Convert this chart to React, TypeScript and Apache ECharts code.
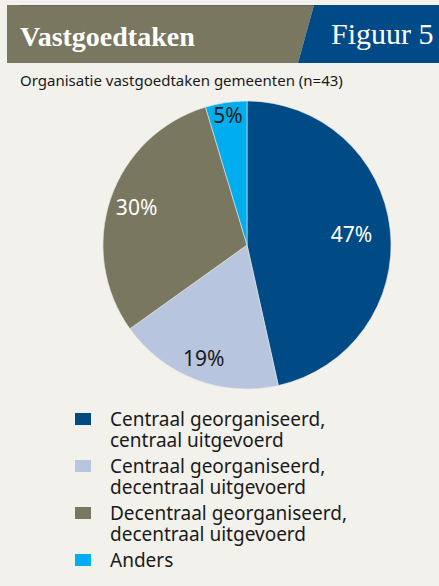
import React, { useEffect, useRef } from "react";
import * as echarts from "echarts";

// Data: organisation of municipal real-estate tasks (n = 43)
const categories = [
  "Centraal georganiseerd,\ncentraal uitgevoerd",
  "Centraal georganiseerd,\ndecentraal uitgevoerd",
  "Decentraal georganiseerd,\ndecentraal uitgevoerd",
  "Anders",
];
const counts = [20, 8, 13, 2];
const percentLabels = ["47%", "19%", "30%", "5%"];

const sliceColors = ["#004a85", "#b8c5de", "#79775f", "#00adee"];
const labelColors = ["#ffffff", "#1a1a1a", "#ffffff", "#1a1a1a"];
const labelRadiusFactor = [0.73, 0.84, 0.81, 0.91];

const CX = 247;
const CY = 245;
const R = 144;

// legend marker: a 16x12 square centred on the first of two 21px text lines
const legendIcon =
  "path://M0,4.5H16V16.5H0Z M0,0L0.01,0L0.01,0.01Z M15.99,41.99L16,41.99L16,42Z";

export default function App() {
  const ref = useRef<HTMLDivElement>(null);
  useEffect(() => {
    if (!ref.current) return;
    const chart = echarts.init(ref.current, undefined, { renderer: "svg" });
    chart.setOption({
      animation: false,
      backgroundColor: "#f2f1eb",
      graphic: [
        {
          type: "polygon",
          shape: { points: [[7, 5], [314, 5], [298, 63], [7, 63]] },
          style: { fill: "#79775f" },
        },
        {
          type: "line",
          shape: { x1: 20, y1: 5.5, x2: 314, y2: 5.5 },
          style: { stroke: "#5b6470", lineWidth: 1 },
        },
        {
          type: "polygon",
          shape: { points: [[314, 5], [439, 5], [439, 63], [298, 63]] },
          style: { fill: "#004b87" },
        },
        {
          type: "text",
          x: 20,
          y: 36,
          style: {
            text: "Vastgoedtaken",
            fill: "#ffffff",
            font: "bold 28px 'Liberation Serif', serif",
            verticalAlign: "middle",
            align: "left",
          },
        },
        {
          type: "text",
          x: 331,
          y: 33,
          style: {
            text: "Figuur 5",
            fill: "#ffffff",
            font: "30px 'Liberation Serif', serif",
            verticalAlign: "middle",
            align: "left",
          },
        },
        {
          type: "text",
          x: 20,
          y: 80,
          style: {
            text: "Organisatie vastgoedtaken gemeenten (n=43)",
            fill: "#1a1a1a",
            font: "15px 'Noto Sans', sans-serif",
            verticalAlign: "middle",
            align: "left",
          },
        },
      ],
      legend: {
        orient: "vertical",
        left: 75,
        top: 408.5,
        height: 200,
        padding: 0,
        itemGap: 5,
        itemWidth: 16,
        itemHeight: 42,
        icon: legendIcon,
        itemStyle: { borderWidth: 0 },
        selectedMode: false,
        data: categories,
        formatter: (name: string) => (name.includes("\n") ? name : name + "\n "),
        textStyle: {
          fontFamily: "'Noto Sans', sans-serif",
          fontSize: 19,
          lineHeight: 21,
          color: "#1a1a1a",
          padding: [0, 0, 0, 14],
        },
      },
      series: [
        {
          type: "pie",
          center: [CX, CY],
          radius: [0, R],
          startAngle: 90,
          clockwise: true,
          silent: true,
          itemStyle: { borderColor: "#e8e8e4", borderWidth: 0.6 },
          label: {
            show: true,
            position: "inside",
            fontFamily: "'Noto Sans', sans-serif",
            fontSize: 21,
          },
          labelLine: { show: false },
          labelLayout: (params: any) => {
            const r = params.labelRect;
            const lx = r.x + r.width / 2;
            const ly = r.y + r.height / 2;
            const dx = lx - CX;
            const dy = ly - CY;
            const d = Math.sqrt(dx * dx + dy * dy) || 1;
            const f = labelRadiusFactor[params.dataIndex] * R;
            return { x: CX + (dx / d) * f, y: CY + (dy / d) * f };
          },
          data: categories.map((name, i) => ({
            name,
            value: counts[i],
            itemStyle: { color: sliceColors[i] },
            label: { formatter: percentLabels[i], color: labelColors[i] },
          })),
        },
      ],
    });
    return () => chart.dispose();
  }, []);
  return (
    <div
      ref={ref}
      style={{ position: "fixed", left: 0, top: 0, width: 439, height: 586 }}
    />
  );
}
